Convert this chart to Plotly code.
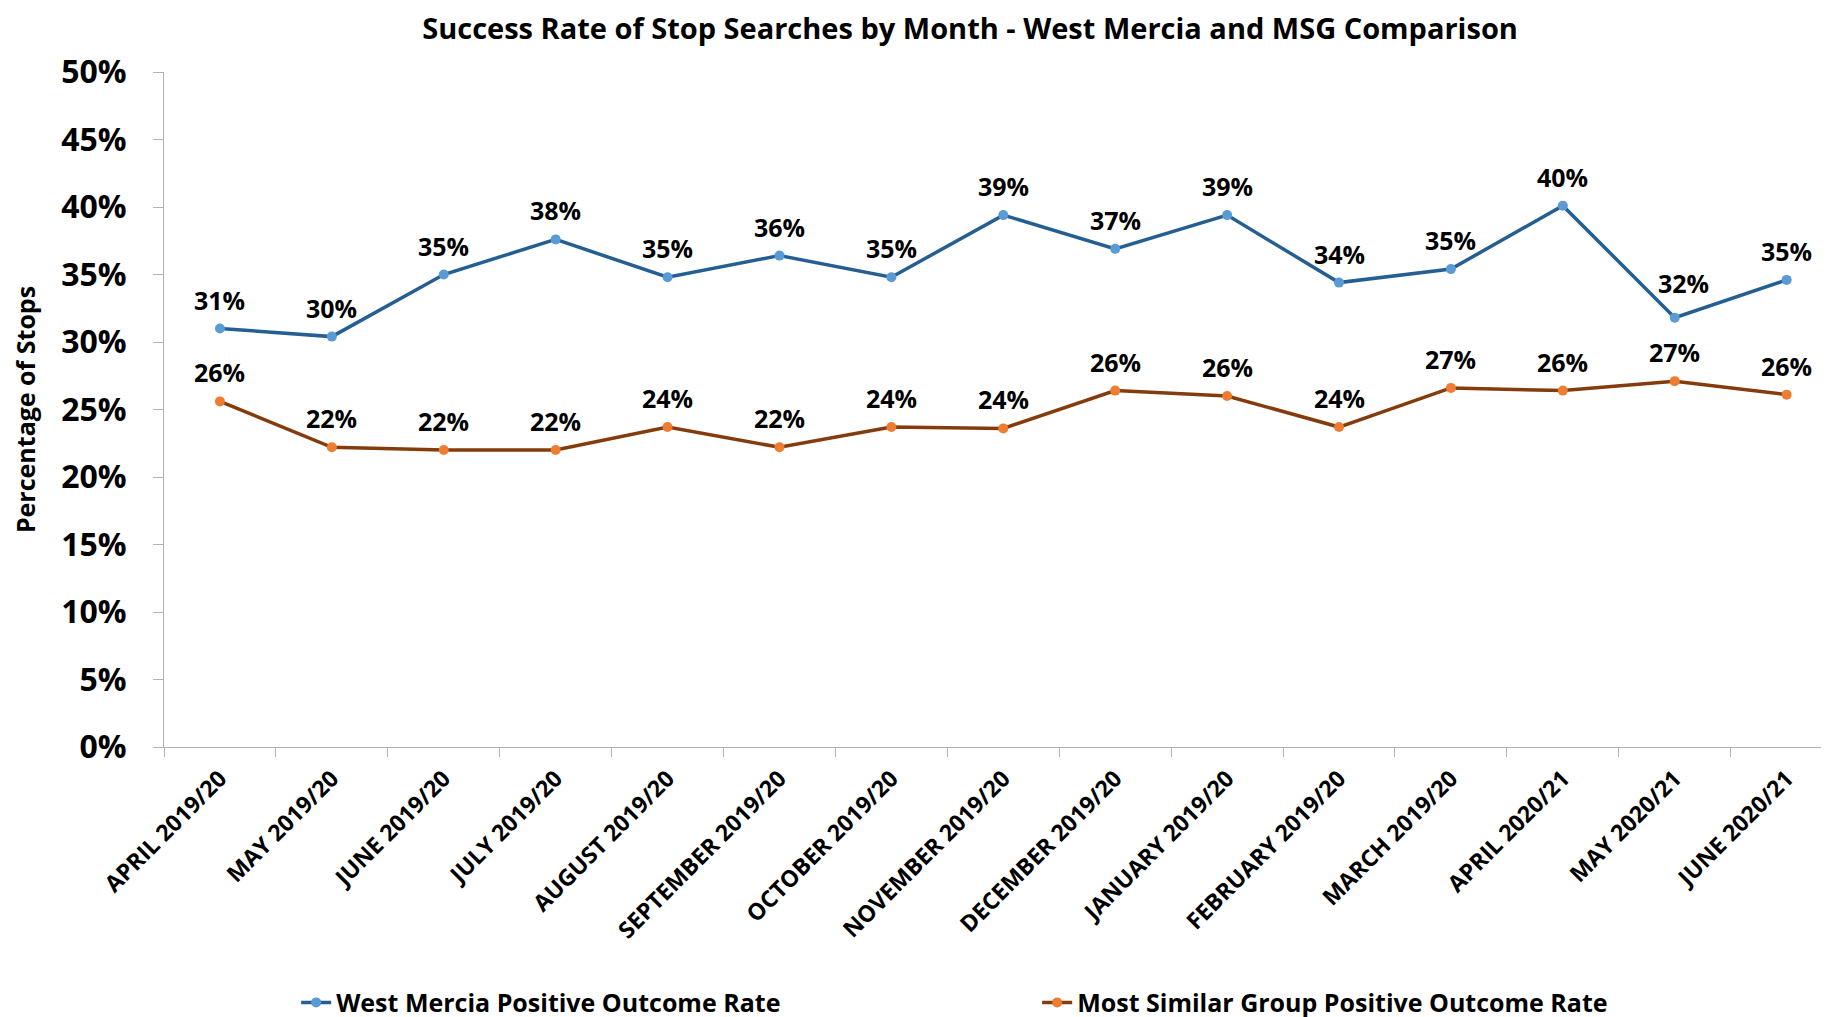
import plotly.graph_objects as go

months = ["APRIL 2019/20", "MAY 2019/20", "JUNE 2019/20", "JULY 2019/20", "AUGUST 2019/20",
          "SEPTEMBER 2019/20", "OCTOBER 2019/20", "NOVEMBER 2019/20", "DECEMBER 2019/20",
          "JANUARY 2019/20", "FEBRUARY 2019/20", "MARCH 2019/20", "APRIL 2020/21",
          "MAY 2020/21", "JUNE 2020/21"]

west_mercia = [0.310, 0.304, 0.350, 0.376, 0.348, 0.364, 0.348, 0.394, 0.369,
               0.394, 0.344, 0.354, 0.401, 0.318, 0.346]
msg = [0.256, 0.222, 0.220, 0.220, 0.237, 0.222, 0.237, 0.236, 0.264,
       0.260, 0.237, 0.266, 0.264, 0.271, 0.261]

y_ticks = [0, 0.05, 0.10, 0.15, 0.20, 0.25, 0.30, 0.35, 0.40, 0.45, 0.50]

FONT = "Open Sans"
AXIS_GREY = "#b3b3b3"

fig = go.Figure()
fig.add_trace(go.Scatter(
    x=months, y=west_mercia, mode="lines+markers",
    name="West Mercia Positive Outcome Rate",
    line=dict(color="#255e91", width=3.5),
    marker=dict(color="#5b9bd5", size=10),
))
fig.add_trace(go.Scatter(
    x=months, y=msg, mode="lines+markers",
    name="Most Similar Group Positive Outcome Rate",
    line=dict(color="#843c0c", width=3.5),
    marker=dict(color="#ed7d31", size=10),
))

# data labels above each point
for series in (west_mercia, msg):
    for m, v in zip(months, series):
        dx, dy = 0, 29
        if series is west_mercia and m == "MAY 2020/21":
            dx, dy = 9, 35
        fig.add_annotation(x=m, y=v, text=f"{v:.0%}", showarrow=False,
                           xshift=dx, yshift=dy,
                           font=dict(family=FONT, size=25, color="black", weight="bold"))

fig.update_layout(
    width=1829, height=1017,
    margin=dict(l=156, r=0, t=64, b=278),
    paper_bgcolor="white", plot_bgcolor="white",
    title=dict(text="Success Rate of Stop Searches by Month - West Mercia and MSG Comparison",
               x=0.526, xanchor="center", xref="container",
               y=0.98, yanchor="middle", yref="container",
               font=dict(family=FONT, size=29, color="black", weight="bold")),
    legend=dict(orientation="h", x=0.079, xanchor="left",
                y=0.022, yanchor="middle", yref="container",
                entrywidth=696,
                font=dict(family=FONT, size=25, color="black", weight="bold")),
)

fig.update_xaxes(
    type="category", range=[-0.5, 14.45], automargin=False,
    showline=True, linecolor=AXIS_GREY, linewidth=1,
    ticks="outside", tickson="boundaries", ticklen=9, tickcolor=AXIS_GREY,
    tickangle=-45, ticklabelstandoff=8, showgrid=False, zeroline=False,
    tickfont=dict(family=FONT, size=23, color="black", weight="bold"),
)
fig.update_yaxes(
    range=[0, 0.5], tickvals=y_ticks, tickformat=".0%", automargin=False,
    showline=True, linecolor=AXIS_GREY, linewidth=1,
    ticks="outside", ticklen=10, tickcolor=AXIS_GREY,
    ticklabelstandoff=20, showgrid=False, zeroline=False,
    tickfont=dict(family=FONT, size=32, color="black", weight="bold"),
    title=dict(text="Percentage of Stops", standoff=18,
               font=dict(family=FONT, size=25, color="black", weight="bold")),
)

fig.write_html("out.html")
